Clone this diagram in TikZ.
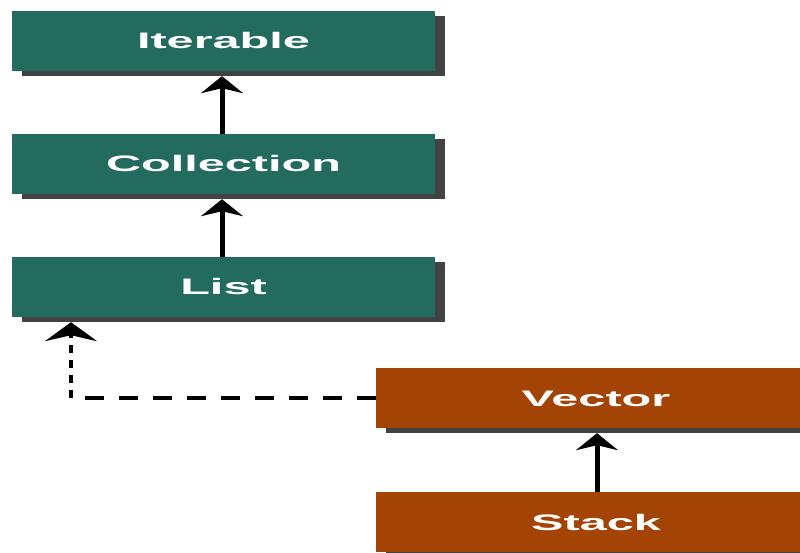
\documentclass[tikz,border=0pt]{standalone}
\usepackage{fontspec}
\usepackage{graphicx}
\setmainfont{Liberation Sans}
\usetikzlibrary{arrows.meta,shadows}

\definecolor{ifacegreen}{RGB}{35,107,95}
\definecolor{classrust}{RGB}{163,68,5}
\definecolor{shadowgray}{RGB}{66,66,66}

\tikzset{
  typebox/.style={
    rectangle, inner sep=0pt, minimum height=60pt, text=white,
    text height=16pt, text depth=0pt,
    font=\fontsize{22.4pt}{24pt}\selectfont\bfseries,
    drop shadow={shadow xshift=10pt, shadow yshift=-5pt, fill=shadowgray, opacity=1}
  },
  iface/.style={typebox, fill=ifacegreen, minimum width=423pt},
  klass/.style={typebox, fill=classrust, minimum width=440pt},
  extends/.style={line width=5pt, shorten >=5pt,
    -{Stealth[length=17pt, width=42pt, inset=5pt]}},
  implleg/.style={line width=3.2pt, dash pattern=on 19pt off 15pt},
  implrise/.style={line width=3.5pt, dash pattern=on 8pt off 7pt, shorten >=5pt,
    -{Stealth[length=19pt, width=52pt, inset=6pt]}}
}

\newcommand{\wide}[1]{\scalebox{2.17}[1]{#1}}

\begin{document}
\begin{tikzpicture}[x=1pt, y=1pt]
  \useasboundingbox (0,0) rectangle (800,552);
  \clip (0,0) rectangle (800,552);

  % interface hierarchy
  \node[iface] (iterable)   at (223.5,511) {\wide{Iterable}};
  \node[iface] (collection) at (223.5,388) {\wide{Collection}};
  \node[iface] (list)       at (223.5,265) {\wide{List}};

  % concrete classes
  \node[klass] (vector) at (596,154) {\wide{Vector}};
  \node[klass] (stack)  at (596,30)  {\wide{Stack}};

  % inheritance
  \draw[extends] (collection.north -| 222,0) -- (iterable.south -| 222,0);
  \draw[extends] (list.north -| 222,0) -- (collection.south -| 222,0);
  \draw[extends] (stack.north -| 597,0) -- (vector.south -| 597,0);

  % Vector implements List
  \coordinate (bend) at (71,154);
  \draw[implleg] (vector.west) -- (bend);
  \draw[implrise] (bend) -- (bend |- list.south);
\end{tikzpicture}
\end{document}
